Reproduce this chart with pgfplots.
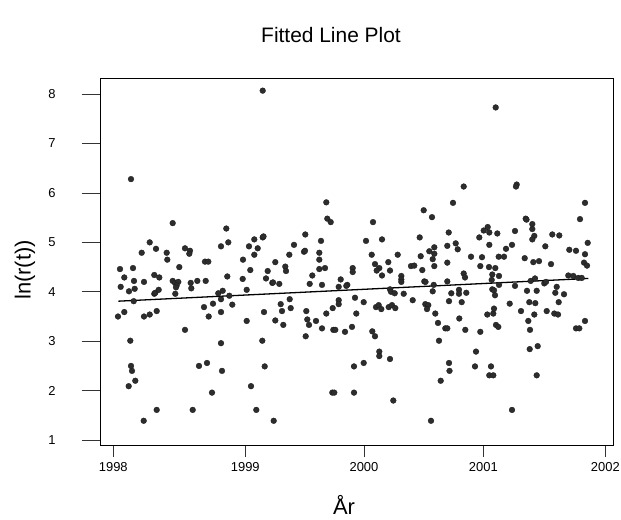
\documentclass[border=0pt]{standalone}
\usepackage{pgfplots}
\usepackage{pgfplotstable}
\usepackage{fontspec}
\setmainfont{Liberation Sans}
\pgfplotsset{compat=1.18}

% t: time index along the observation axis, lnr: ln(r(t))
\pgfplotstableread{
t lnr
18 6.28
28.7 4.79
36.7 5.00
43 4.87
53.7 4.79
54.3 4.65
59.7 5.39
72 4.88
77 4.83
76.3 4.77
108 4.92
113.3 5.28
115.3 5.00
136 4.92
141.3 5.06
141.3 4.75
144.7 4.88
130 4.65
149.7 8.07
213.3 5.81
214.3 5.48
217.7 5.41
260 5.41
310.7 5.65
319 5.51
335.7 5.20
149.7 5.10
150.5 5.12
181 4.95
192.3 5.16
191 4.81
192 4.83
176.3 4.75
208 5.03
206.3 4.79
206.3 4.65
162.3 4.60
253 5.03
269 5.06
258.7 4.75
284.7 4.75
275.3 4.60
306.7 5.10
307.7 4.72
316.3 4.82
321.3 4.90
321.3 4.77
319.7 4.66
334.3 4.93
382.7 7.73
350.7 6.13
403.7 6.17
403 6.13
340 5.80
472 5.80
412.7 5.48
413.5 5.46
467 5.47
419.3 5.37
419.3 5.27
374.7 5.31
370.7 5.24
376.3 5.20
384.3 5.18
402 5.23
421.3 5.13
419.3 5.06
439.3 5.16
446.3 5.14
342.7 4.98
344.7 4.86
366.3 5.10
376.3 4.95
399 4.95
393 4.87
432.3 4.92
456.3 4.85
463 4.83
474.7 4.99
472 4.76
358 4.71
369 4.70
385.7 4.71
391 4.71
411.7 4.68
92 4.61
95.3 4.61
66.3 4.50
7 4.46
20 4.48
11.3 4.29
21 4.22
7.7 4.10
16 4.01
21.7 4.06
20.7 3.81
31 4.20
41.3 4.34
46.3 4.29
41.3 3.96
42.3 3.98
45.7 4.04
5 3.50
11.3 3.59
31 3.50
36.7 3.54
43.7 3.61
17.3 3.01
18 2.50
19 2.40
15.7 2.09
22.3 2.20
30.7 1.39
43.7 1.61
59.7 4.22
62 4.18
65.3 4.20
63.7 4.13
62.3 3.96
63 4.09
72 3.23
77.7 4.18
78.3 4.07
84.3 4.22
92.7 4.22
79.7 1.61
86 2.50
94 2.56
91 3.69
95.7 3.50
100 3.76
99 1.96
108 3.59
108 2.96
109 2.40
105.3 3.97
109.7 4.02
108 3.85
114.3 4.31
116.3 3.92
119.3 3.74
129.7 4.26
137.3 4.44
133.7 4.04
133.7 3.41
138 2.09
143.3 1.61
149.3 3.01
154.7 4.42
153 4.27
159.3 4.18
160 4.19
166.3 4.16
172.3 4.51
173 4.42
199.3 4.33
196.7 4.16
209 4.14
206.3 4.46
212 4.48
227.7 4.25
225.7 4.10
234.3 4.14
233.3 4.12
239.7 4.48
239.7 4.40
262 4.56
266.3 4.48
263.7 4.43
269 4.33
277 4.43
288.3 4.32
288.3 4.25
288.3 4.20
298 4.52
301.3 4.53
309.3 4.44
311.3 4.21
312.5 4.20
319.7 4.01
320.7 4.14
334.3 4.59
321.3 4.52
334.3 4.21
336 3.81
277 4.05
278 4.00
281.7 3.97
290.7 3.96
299.7 3.83
312.3 3.75
315.3 3.73
314 3.65
167.7 3.75
176.7 3.85
169 3.61
177.7 3.67
151 3.59
162.3 3.42
170.3 3.33
193.3 3.61
194.3 3.44
196 3.33
203 3.41
209 3.26
192.7 3.10
213.3 3.56
219.7 3.67
225.7 3.83
225.7 3.75
220.3 3.23
222.3 3.23
232 3.19
239 3.29
242 3.88
250.7 3.79
243.3 3.56
259.3 3.20
262 3.10
263 3.69
265.7 3.73
268.3 3.65
275.7 3.69
279 3.73
282.3 3.67
322.3 3.56
325 3.37
332.3 3.26
334.3 3.26
326 3.01
151.7 2.49
266.3 2.79
266.3 2.70
277 2.64
241 2.49
250.7 2.56
336 2.56
336.5 2.40
327.7 2.20
219.3 1.96
221.3 1.96
241 1.96
280.3 1.80
160.7 1.39
318 1.39
420.3 4.60
426 4.62
438 4.56
471 4.59
474 4.53
367.3 4.52
376 4.50
382.3 4.48
350.7 4.37
352 4.29
379.3 4.35
386 4.32
378.7 4.24
386 4.14
402 4.12
417.7 4.22
422 4.27
431.3 4.17
433 4.20
455.3 4.33
460.3 4.32
465.3 4.28
468.7 4.28
338.3 3.97
346 4.04
346 3.96
353.3 3.98
348.7 3.79
379.3 4.05
381 4.03
382 3.93
396.7 3.76
414 4.02
423.7 4.02
416.3 3.79
422.3 3.77
443.7 4.10
442.3 3.98
451 3.95
445.7 3.79
408 3.61
421.3 3.54
433.7 3.61
441.3 3.56
445 3.54
415.3 3.41
374.3 3.54
380.3 3.56
381 3.66
346.3 3.46
352.3 3.23
367.3 3.19
383 3.33
385.3 3.29
417 3.23
463 3.26
466.3 3.26
472 3.41
363 2.79
362 2.49
378 2.49
376.3 2.31
380.3 2.31
416.7 2.84
424.7 2.90
423.7 2.31
399 1.61
}\obsdata

\definecolor{dotcol}{RGB}{45,45,45}

\begin{document}
\begin{tikzpicture}
\useasboundingbox (-100bp,-75bp) rectangle (521bp,445bp);
\begin{axis}[
  at={(0,0)}, anchor=south west,
  scale only axis,
  width=513.5bp, height=366.7bp,
  xmin=-13, xmax=500.5,
  ymin=0.9, ymax=8.32,
  xtick={0.3,132.3,251,370.3,492.3},
  xticklabels={1998,1999,2000,2001,2002},
  ytick={1,2,3,4,5,6,7,8},
  tick align=outside,
  major tick length=12bp,
  y tick style={/pgfplots/major tick length=18bp},
  xtick pos=bottom, ytick pos=left,
  axis line style={black, line width=0.9bp},
  tick style={black!80, line width=0.9bp},
  /pgf/number format/assume math mode=true,
  tick label style={font=\fontsize{13}{15}\selectfont},
  xticklabel style={anchor=north, yshift=-2bp},
  yticklabel style={anchor=east, xshift=-29bp},
  clip=false,
]
\addplot[only marks, mark=*, mark size=2.9bp,
  mark options={fill=dotcol, draw=black!90, line width=0.3bp}]
  table[x=t, y=lnr] {\obsdata};
% least-squares fit
\addplot[black, line width=1.3bp] coordinates {(5.3,3.81) (475.3,4.27)};
\end{axis}
\node[font=\fontsize{21}{25}\selectfont] at (231bp,410bp) {Fitted Line Plot};
\node[font=\fontsize{22}{26}\selectfont] at (244bp,-60bp) {År};
\node[font=\fontsize{22}{26}\selectfont, rotate=90] at (-75bp,175bp) {ln(r(t))};
\end{tikzpicture}
\end{document}
